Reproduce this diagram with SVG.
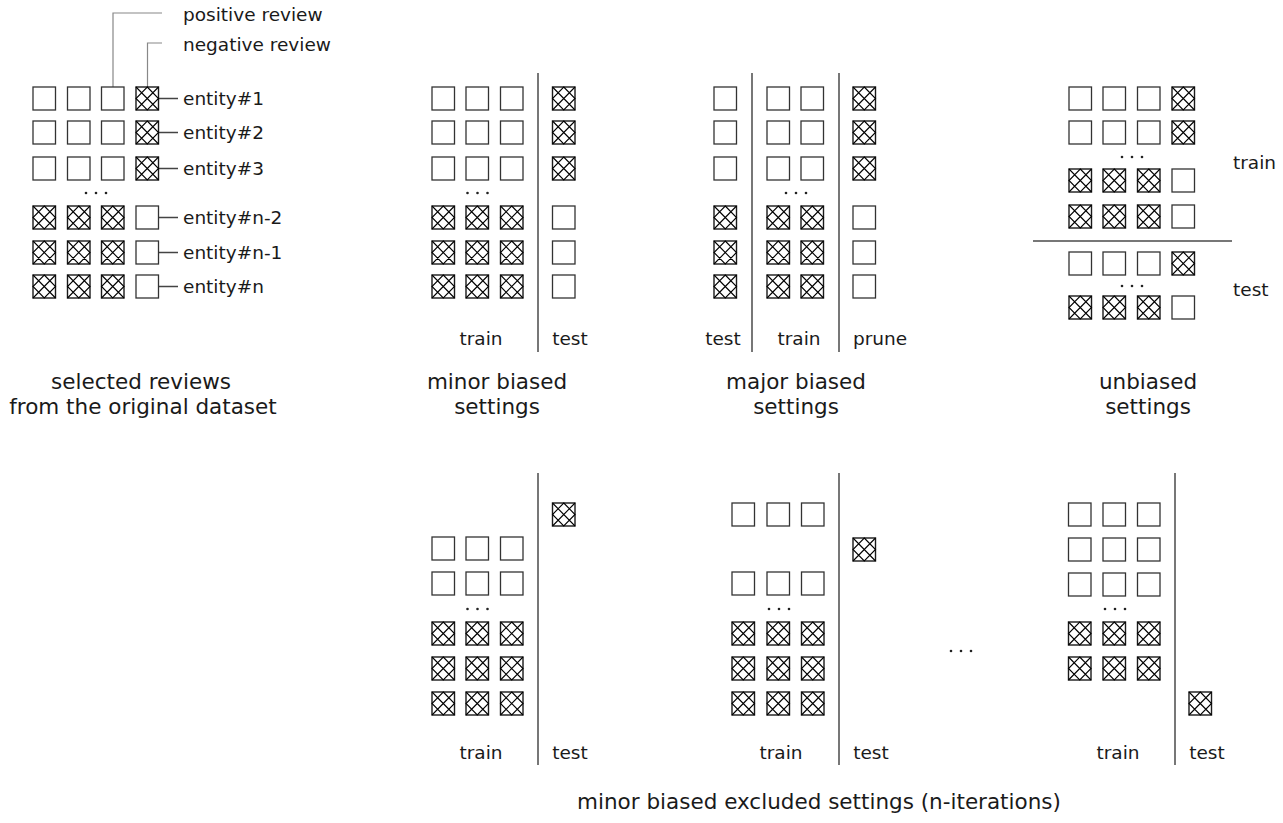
<svg xmlns="http://www.w3.org/2000/svg" xmlns:xlink="http://www.w3.org/1999/xlink" width="1283" height="823" viewBox="0 0 1283 823">
<style>
text{font-family:"DejaVu Sans","Verdana",sans-serif;fill:#1a1a1a}
.lbl{font-size:18.5px}
.cap{font-size:21.5px;text-anchor:middle}
.mid{text-anchor:middle}
.sep{stroke:#777;stroke-width:2;fill:none}
.lead{stroke:#888;stroke-width:1.2;fill:none}
.con{stroke:#444;stroke-width:1.3;fill:none}
.dot{fill:#222}
</style>
<defs>
<g id="e"><rect x="0" y="0" width="22.5" height="23" fill="#fff" stroke="#333" stroke-width="1.3"/></g>
<g id="h"><rect x="0" y="0" width="22.5" height="23" fill="#fff" stroke="#1a1a1a" stroke-width="1.4"/><path d="M0,0L22.5,23M22.5,0L0,23M11.25,0L22.5,11.5L11.25,23L0,11.5Z" fill="none" stroke="#000" stroke-width="1.1"/></g>
<g id="d"><circle cx="-10" cy="0" r="1.3"/><circle cx="0" cy="0" r="1.3"/><circle cx="10" cy="0" r="1.3"/></g>
</defs>
<rect width="1283" height="823" fill="#fff"/>

<g id="connectors">
<path class="lead" d="M113,87V13H162"/>
<path class="lead" d="M147.5,87V43H162"/>
<path class="con" d="M159,98.5H178M159,132.5H178M159,168.5H178M159,217.5H178M159,252.5H178M159,286.5H178"/>
<path class="sep" d="M538,73V352M752,73V352M839,73V352M1033,241H1232"/>
<path class="sep" d="M538,473V765M839,473V765M1175,473V765"/>
</g>

<g id="legend">
<text class="lbl" x="183" y="21">positive review</text>
<text class="lbl" x="183" y="51">negative review</text>
</g>

<g id="panel-original">
<use href="#e" x="33" y="87"/><use href="#e" x="67.5" y="87"/><use href="#e" x="101.5" y="87"/><use href="#h" x="136" y="87"/>
<use href="#e" x="33" y="121"/><use href="#e" x="67.5" y="121"/><use href="#e" x="101.5" y="121"/><use href="#h" x="136" y="121"/>
<use href="#e" x="33" y="157"/><use href="#e" x="67.5" y="157"/><use href="#e" x="101.5" y="157"/><use href="#h" x="136" y="157"/>
<use href="#d" class="dot" x="96" y="193"/>
<use href="#h" x="33" y="206"/><use href="#h" x="67.5" y="206"/><use href="#h" x="101.5" y="206"/><use href="#e" x="136" y="206"/>
<use href="#h" x="33" y="241"/><use href="#h" x="67.5" y="241"/><use href="#h" x="101.5" y="241"/><use href="#e" x="136" y="241"/>
<use href="#h" x="33" y="275"/><use href="#h" x="67.5" y="275"/><use href="#h" x="101.5" y="275"/><use href="#e" x="136" y="275"/>
<text class="lbl" x="183" y="105">entity#1</text>
<text class="lbl" x="183" y="139">entity#2</text>
<text class="lbl" x="183" y="175">entity#3</text>
<text class="lbl" x="183" y="224">entity#n-2</text>
<text class="lbl" x="183" y="259">entity#n-1</text>
<text class="lbl" x="183" y="293">entity#n</text>
<text class="cap" x="141" y="389">selected reviews</text>
<text class="cap" x="143" y="414">from the original dataset</text>
</g>

<g id="panel-minor">
<use href="#e" x="432" y="87"/><use href="#e" x="466" y="87"/><use href="#e" x="500.5" y="87"/><use href="#h" x="552.5" y="87"/>
<use href="#e" x="432" y="121"/><use href="#e" x="466" y="121"/><use href="#e" x="500.5" y="121"/><use href="#h" x="552.5" y="121"/>
<use href="#e" x="432" y="157"/><use href="#e" x="466" y="157"/><use href="#e" x="500.5" y="157"/><use href="#h" x="552.5" y="157"/>
<use href="#d" class="dot" x="477.5" y="193"/>
<use href="#h" x="432" y="206"/><use href="#h" x="466" y="206"/><use href="#h" x="500.5" y="206"/><use href="#e" x="552.5" y="206"/>
<use href="#h" x="432" y="241"/><use href="#h" x="466" y="241"/><use href="#h" x="500.5" y="241"/><use href="#e" x="552.5" y="241"/>
<use href="#h" x="432" y="275"/><use href="#h" x="466" y="275"/><use href="#h" x="500.5" y="275"/><use href="#e" x="552.5" y="275"/>
<text class="lbl mid" x="481" y="345">train</text>
<text class="lbl mid" x="570" y="345">test</text>
<text class="cap" x="497" y="389">minor biased</text>
<text class="cap" x="497" y="414">settings</text>
</g>

<g id="panel-major">
<use href="#e" x="714" y="87"/><use href="#e" x="767" y="87"/><use href="#e" x="801" y="87"/><use href="#h" x="853" y="87"/>
<use href="#e" x="714" y="121"/><use href="#e" x="767" y="121"/><use href="#e" x="801" y="121"/><use href="#h" x="853" y="121"/>
<use href="#e" x="714" y="157"/><use href="#e" x="767" y="157"/><use href="#e" x="801" y="157"/><use href="#h" x="853" y="157"/>
<use href="#d" class="dot" x="796" y="193"/>
<use href="#h" x="714" y="206"/><use href="#h" x="767" y="206"/><use href="#h" x="801" y="206"/><use href="#e" x="853" y="206"/>
<use href="#h" x="714" y="241"/><use href="#h" x="767" y="241"/><use href="#h" x="801" y="241"/><use href="#e" x="853" y="241"/>
<use href="#h" x="714" y="275"/><use href="#h" x="767" y="275"/><use href="#h" x="801" y="275"/><use href="#e" x="853" y="275"/>
<text class="lbl mid" x="723" y="345">test</text>
<text class="lbl mid" x="799" y="345">train</text>
<text class="lbl mid" x="880" y="345">prune</text>
<text class="cap" x="796" y="389">major biased</text>
<text class="cap" x="796" y="414">settings</text>
</g>

<g id="panel-unbiased">
<use href="#e" x="1069" y="87"/><use href="#e" x="1103" y="87"/><use href="#e" x="1137.5" y="87"/><use href="#h" x="1172" y="87"/>
<use href="#e" x="1069" y="121"/><use href="#e" x="1103" y="121"/><use href="#e" x="1137.5" y="121"/><use href="#h" x="1172" y="121"/>
<use href="#d" class="dot" x="1132" y="157"/>
<use href="#h" x="1069" y="169"/><use href="#h" x="1103" y="169"/><use href="#h" x="1137.5" y="169"/><use href="#e" x="1172" y="169"/>
<use href="#h" x="1069" y="205"/><use href="#h" x="1103" y="205"/><use href="#h" x="1137.5" y="205"/><use href="#e" x="1172" y="205"/>
<use href="#e" x="1069" y="252"/><use href="#e" x="1103" y="252"/><use href="#e" x="1137.5" y="252"/><use href="#h" x="1172" y="252"/>
<use href="#d" class="dot" x="1132" y="286"/>
<use href="#h" x="1069" y="296"/><use href="#h" x="1103" y="296"/><use href="#h" x="1137.5" y="296"/><use href="#e" x="1172" y="296"/>
<text class="lbl" x="1233" y="169">train</text>
<text class="lbl" x="1233" y="296">test</text>
<text class="cap" x="1148" y="389">unbiased</text>
<text class="cap" x="1148" y="414">settings</text>
</g>

<g id="panel-excluded-1">
<use href="#h" x="552.5" y="503"/>
<use href="#e" x="432" y="537"/><use href="#e" x="466" y="537"/><use href="#e" x="500.5" y="537"/>
<use href="#e" x="432" y="572"/><use href="#e" x="466" y="572"/><use href="#e" x="500.5" y="572"/>
<use href="#d" class="dot" x="477.5" y="609"/>
<use href="#h" x="432" y="622"/><use href="#h" x="466" y="622"/><use href="#h" x="500.5" y="622"/>
<use href="#h" x="432" y="657"/><use href="#h" x="466" y="657"/><use href="#h" x="500.5" y="657"/>
<use href="#h" x="432" y="692"/><use href="#h" x="466" y="692"/><use href="#h" x="500.5" y="692"/>
<text class="lbl mid" x="481" y="759">train</text>
<text class="lbl mid" x="570" y="759">test</text>
</g>

<g id="panel-excluded-2">
<use href="#e" x="732" y="503"/><use href="#e" x="767" y="503"/><use href="#e" x="801.5" y="503"/>
<use href="#h" x="853" y="538"/>
<use href="#e" x="732" y="572"/><use href="#e" x="767" y="572"/><use href="#e" x="801.5" y="572"/>
<use href="#d" class="dot" x="779" y="609"/>
<use href="#h" x="732" y="622"/><use href="#h" x="767" y="622"/><use href="#h" x="801.5" y="622"/>
<use href="#h" x="732" y="657"/><use href="#h" x="767" y="657"/><use href="#h" x="801.5" y="657"/>
<use href="#h" x="732" y="692"/><use href="#h" x="767" y="692"/><use href="#h" x="801.5" y="692"/>
<text class="lbl mid" x="781" y="759">train</text>
<text class="lbl mid" x="871" y="759">test</text>
</g>

<g id="ellipsis"><use href="#d" class="dot" x="961" y="651"/></g>

<g id="panel-excluded-n">
<use href="#e" x="1068.5" y="503"/><use href="#e" x="1103" y="503"/><use href="#e" x="1137.5" y="503"/>
<use href="#e" x="1068.5" y="538"/><use href="#e" x="1103" y="538"/><use href="#e" x="1137.5" y="538"/>
<use href="#e" x="1068.5" y="573"/><use href="#e" x="1103" y="573"/><use href="#e" x="1137.5" y="573"/>
<use href="#d" class="dot" x="1115" y="609"/>
<use href="#h" x="1068.5" y="622"/><use href="#h" x="1103" y="622"/><use href="#h" x="1137.5" y="622"/>
<use href="#h" x="1068.5" y="657"/><use href="#h" x="1103" y="657"/><use href="#h" x="1137.5" y="657"/>
<use href="#h" x="1189" y="692"/>
<text class="lbl mid" x="1118" y="759">train</text>
<text class="lbl mid" x="1207" y="759">test</text>
</g>

<text class="cap" x="819" y="809">minor biased excluded settings (n-iterations)</text>
</svg>
